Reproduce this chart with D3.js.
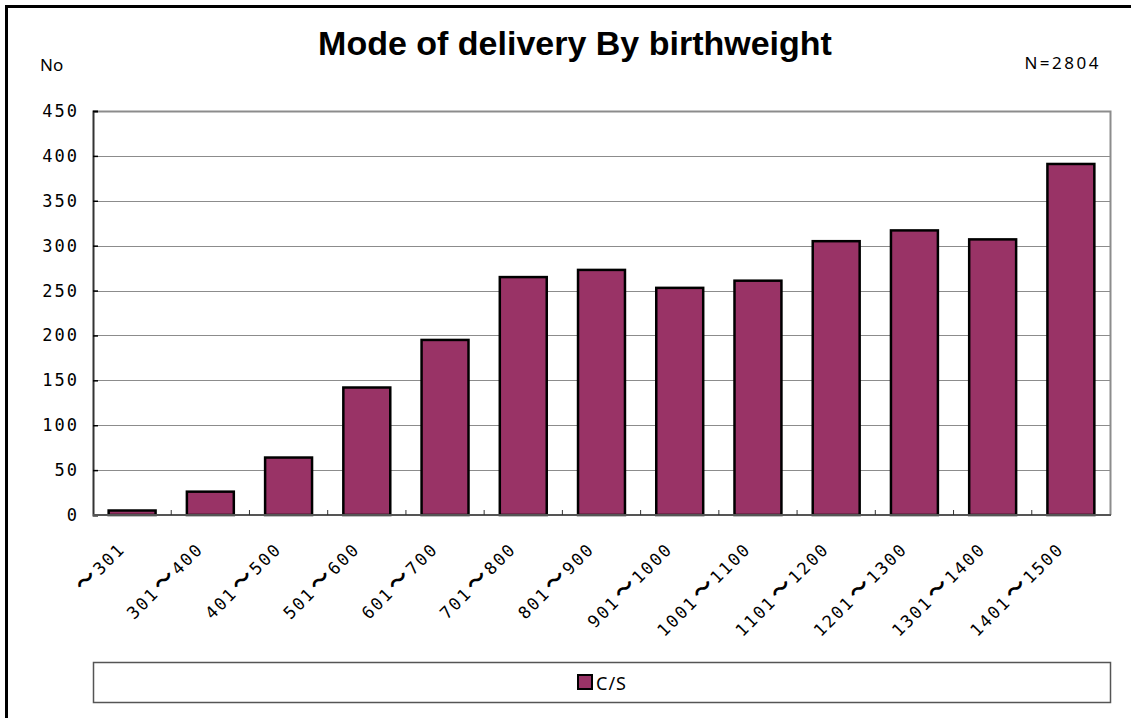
<!DOCTYPE html>
<html>
<head>
<meta charset="utf-8">
<script src="https://cdn.jsdelivr.net/npm/d3@7"></script>
<style>
  body { margin: 0; background: #fff; }
  text { fill: #000; }
</style>
</head>
<body>
<svg id="chart"></svg>
<script>
// Birthweight groups (g)
const categories = ["～301", "301～400", "401～500", "501～600", "601～700", "701～800",
  "801～900", "901～1000", "1001～1100", "1101～1200", "1201～1300", "1301～1400", "1401～1500"];
// C/S counts per group
const csValues = [5, 26, 64, 142, 195, 265, 273, 253, 261, 305, 317, 307, 391];
const yTicks = [0, 50, 100, 150, 200, 250, 300, 350, 400, 450];
const seriesName = "C/S";

const width = 1131;
const height = 718;
const svg = d3.select("#chart").attr("width", width).attr("height", height);

const barColor = "#993366";
const monoFont = "'DejaVu Sans Mono', monospace";
const cjkFont = "'Noto Sans CJK JP', sans-serif";

// Plot area
const plotLeft = 93, plotRight = 1110, plotTop = 111, plotBottom = 515;

const x = d3.scaleBand().domain(categories).range([plotLeft, plotRight]).paddingInner(0.4).paddingOuter(0.2);
const xOuter = d3.scaleBand().domain(categories).range([plotLeft, plotRight]);
const y = d3.scaleLinear().domain([0, 450]).range([plotBottom, plotTop]);

// Outer frame (only left and top visible)
svg.append("line").attr("x1", 6.5).attr("x2", 6.5).attr("y1", 5).attr("y2", height)
  .attr("stroke", "#000").attr("stroke-width", 3);
svg.append("line").attr("x1", 5).attr("x2", width).attr("y1", 6.5).attr("y2", 6.5)
  .attr("stroke", "#000").attr("stroke-width", 3);

// Title and side labels
svg.append("text").attr("x", 575).attr("y", 55).attr("text-anchor", "middle")
  .style("font-family", "Arial, 'Liberation Sans', sans-serif")
  .style("font-weight", "bold").style("font-size", "34px")
  .text("Mode of delivery By birthweight");
svg.append("text").attr("x", 40).attr("y", 71)
  .style("font-family", "'Noto Sans', sans-serif").style("font-size", "17px").text("No");
svg.append("text").attr("x", 1101).attr("y", 69).attr("text-anchor", "end")
  .style("font-family", "'Noto Sans', sans-serif").style("font-size", "17px")
  .style("letter-spacing", "2.5px").text("N=2804");

// Gridlines
svg.append("g").selectAll("line").data(yTicks.filter(d => d > 0)).join("line")
  .attr("x1", plotLeft).attr("x2", plotRight)
  .attr("y1", d => Math.round(y(d)) + 0.5).attr("y2", d => Math.round(y(d)) + 0.5)
  .attr("stroke", "#8c8c8c").attr("stroke-width", 1);

// Plot frame top/right
svg.append("path")
  .attr("d", `M${plotLeft},${plotTop + 0.5}H${plotRight + 0.5}V${plotBottom}`)
  .attr("fill", "none").attr("stroke", "#8c8c8c").attr("stroke-width", 2);

// Bars
svg.append("g").selectAll("rect").data(csValues).join("rect")
  .attr("x", (d, i) => x(categories[i]))
  .attr("y", d => y(d))
  .attr("width", x.bandwidth())
  .attr("height", d => plotBottom - y(d))
  .attr("fill", barColor)
  .attr("stroke", "#000").attr("stroke-width", 2.5);

// Y axis
const yAxis = svg.append("g").attr("transform", `translate(${plotLeft},0)`)
  .call(d3.axisLeft(y).tickValues(yTicks).tickSize(-5));
yAxis.select(".domain").attr("stroke", "#333").attr("stroke-width", 2);
yAxis.selectAll(".tick line").attr("stroke", "#000").attr("stroke-width", 1.5);
yAxis.selectAll("text").style("font-family", monoFont).style("font-size", "17px")
  .style("letter-spacing", "2px")
  .attr("text-anchor", "end").attr("x", -14).attr("fill", "#000");

// X axis with ticks between categories
const xAxisG = svg.append("g").attr("transform", `translate(0,${plotBottom})`);
xAxisG.append("line").attr("x1", plotLeft).attr("x2", plotRight + 1)
  .attr("stroke", "#555").attr("stroke-width", 2);
xAxisG.selectAll("line.sep").data(categories.slice(1)).join("line").attr("class", "sep")
  .attr("x1", d => xOuter(d)).attr("x2", d => xOuter(d))
  .attr("y1", 0).attr("y2", -5).attr("stroke", "#333").attr("stroke-width", 1);

const xLabels = xAxisG.selectAll("text").data(categories).join("text")
  .attr("transform", d => `translate(${xOuter(d) + xOuter.bandwidth() / 2 - 6},35) rotate(-45)`)
  .attr("text-anchor", "end")
  .style("font-family", monoFont).style("font-size", "17px")
  .style("letter-spacing", "2px");
// split around the wave dash so it uses a larger, heavier glyph like the original
xLabels.each(function(d) {
  const t = d3.select(this);
  const parts = d.split("～");
  t.append("tspan").text(parts[0]);
  t.append("tspan").attr("dx", parts[0] ? 2 : 0).style("font-family", cjkFont).style("font-size", "21px")
    .style("font-weight", "bold").style("letter-spacing", "3px").text("～");
  t.append("tspan").text(parts[1]);
});

// Legend
const legend = svg.append("g");
legend.append("rect").attr("x", plotLeft + 0.5).attr("y", 662.5).attr("width", plotRight - plotLeft).attr("height", 40)
  .attr("fill", "#fff").attr("stroke", "#555").attr("stroke-width", 1.5);
legend.append("rect").attr("x", 578).attr("y", 675).attr("width", 14).attr("height", 14)
  .attr("fill", barColor).attr("stroke", "#000").attr("stroke-width", 2);
legend.append("text").attr("x", 596).attr("y", 690)
  .style("font-family", "'Noto Sans', sans-serif").style("font-size", "18px")
  .style("letter-spacing", "1px").text(seriesName);
</script>
</body>
</html>
